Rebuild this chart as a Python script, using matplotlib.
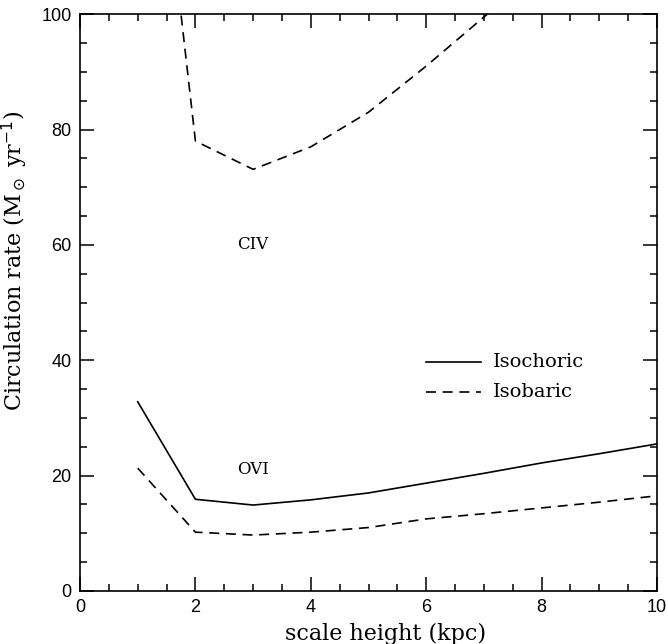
import matplotlib
matplotlib.use("Agg")
import matplotlib.pyplot as plt
from matplotlib.ticker import MultipleLocator

# scale height (kpc)
scale_height = [1, 2, 3, 4, 5, 6, 7, 8, 9, 10]

# CIV, isobaric (goes off the top of the plot)
civ_isobaric = [166, 78, 73.1, 77.0, 83.0, 91.0, 99.5, 108, 117, 126]

# OVI
ovi_isochoric = [32.8, 15.9, 14.9, 15.8, 17.0, 18.7, 20.4, 22.2, 23.8, 25.5]
ovi_isobaric = [21.3, 10.2, 9.7, 10.2, 11.0, 12.5, 13.4, 14.4, 15.4, 16.5]

serif = "DejaVu Serif"
sans = "Liberation Sans"

fig = plt.figure(figsize=(6.68, 6.44), dpi=100)
ax = fig.add_axes([0.1198, 0.0823, 0.8637, 0.8957])

dash = (6, 4)
ax.plot(scale_height, civ_isobaric, color="black", lw=1.2, dashes=dash)
ax.plot(scale_height, ovi_isochoric, color="black", lw=1.2)
ax.plot(scale_height, ovi_isobaric, color="black", lw=1.2, dashes=dash)

ax.set_xlim(0, 10)
ax.set_ylim(0, 100)

ax.text(3.0, 60, "CIV", family=serif, fontsize=12, ha="center", va="center")
ax.text(3.0, 21, "OVI", family=serif, fontsize=12, ha="center", va="center")

# legend drawn by hand like the original
ax.plot([6.0, 6.95], [39.7, 39.7], color="black", lw=1.2)
ax.plot([6.0, 6.95], [34.5, 34.5], color="black", lw=1.2, dashes=dash)
ax.text(7.15, 39.7, "Isochoric", family=serif, fontsize=14, va="center")
ax.text(7.15, 34.5, "Isobaric", family=serif, fontsize=14, va="center")

ax.xaxis.set_major_locator(MultipleLocator(2))
ax.xaxis.set_minor_locator(MultipleLocator(0.5))
ax.yaxis.set_major_locator(MultipleLocator(20))
ax.yaxis.set_minor_locator(MultipleLocator(5))
ax.tick_params(which="both", direction="in", top=True, right=True, width=1.1)
ax.tick_params(which="major", length=10, labelsize=13, pad=6)
ax.tick_params(which="minor", length=5)
for lab in ax.get_xticklabels() + ax.get_yticklabels():
    lab.set_family(sans)
for s in ax.spines.values():
    s.set_linewidth(1.2)

ax.set_xlabel("scale height (kpc)", family=serif, fontsize=16)
ax.set_ylabel(r"Circulation rate (M$_\odot$ yr$^{-1}$)", family=serif, fontsize=16)
ax.xaxis.set_label_coords(0.529, -0.055)
ax.yaxis.set_label_coords(-0.087, 0.572)

fig.savefig("out.png", dpi=100)
